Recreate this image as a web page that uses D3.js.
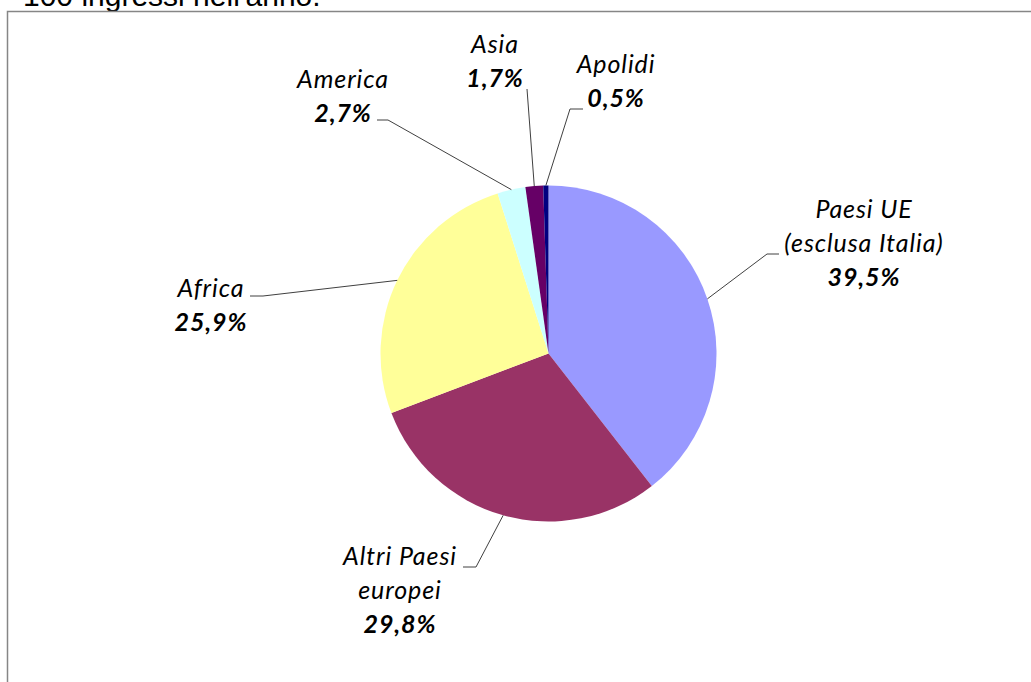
<!DOCTYPE html>
<meta charset="utf-8">
<style>

body {
  margin: 0;
  background: #fff;
}

.title {
  font-family: "Liberation Sans", Arial, sans-serif;
  font-size: 30px;
  fill: #000;
}

.frame {
  fill: none;
  stroke: #868686;
  stroke-width: 1.5px;
}

.slice {
  stroke: none;
}

.leader {
  fill: none;
  stroke: #404040;
  stroke-width: 1px;
}

.label {
  font-family: Lato, "Open Sans", sans-serif;
  font-style: italic;
  font-size: 25px;
  letter-spacing: 0.9px;
  fill: #000;
  text-anchor: middle;
}

.label .pct {
  font-weight: bold;
}

</style>
<svg width="1031" height="682"></svg>
<script src="https://cdn.jsdelivr.net/npm/d3@7"></script>
<script>

var categories = ["Paesi UE (esclusa Italia)", "Altri Paesi europei", "Africa", "America", "Asia", "Apolidi"];
var values = [39.5, 29.8, 25.9, 2.7, 1.7, 0.5];
var labelLines = [
  ["Paesi UE", "(esclusa Italia)"],
  ["Altri Paesi", "europei"],
  ["Africa"],
  ["America"],
  ["Asia"],
  ["Apolidi"]
];
var colors = ["#9999ff", "#993366", "#ffff99", "#ccffff", "#660066", "#000080"];

// where each label sits and where its leader line bends
var layout = [
  {x: 864, y: 218, elbow: [[767, 254], [779, 254]]},
  {x: 400, y: 565, elbow: [[476, 567], [463, 567]]},
  {x: 211, y: 297, elbow: [[263, 296], [250, 296]]},
  {x: 343, y: 88,  elbow: [[388, 120], [377, 120]]},
  {x: 495, y: 53,  elbow: [[527, 89]]},
  {x: 616, y: 73,  elbow: [[570, 109], [583, 109]]}
];

var svg = d3.select("svg"),
    width = +svg.attr("width"),
    height = +svg.attr("height");

var cx = 548.5, cy = 353.5, radius = 168,
    lineHeight = 34;

svg.append("text")
    .attr("class", "title")
    .attr("x", 23)
    .attr("y", 6)
    .text("100 ingressi nell'anno.");

svg.append("rect")
    .attr("class", "frame")
    .attr("x", 7.5)
    .attr("y", 11.5)
    .attr("width", width + 10)
    .attr("height", height + 10);

var data = categories.map(function(c, i) {
  return {name: c, value: values[i], lines: labelLines[i], color: colors[i], pos: layout[i]};
});

var pie = d3.pie()
    .sort(null)
    .value(function(d) { return d.value; });

var arc = d3.arc()
    .innerRadius(0)
    .outerRadius(radius);

var edge = d3.arc()
    .innerRadius(radius)
    .outerRadius(radius);

var g = svg.append("g")
    .attr("transform", "translate(" + cx + "," + cy + ")");

var arcs = pie(data);

g.selectAll(".slice")
    .data(arcs)
  .enter().append("path")
    .attr("class", "slice")
    .attr("fill", function(d) { return d.data.color; })
    .attr("d", arc);

svg.selectAll(".leader")
    .data(arcs)
  .enter().append("polyline")
    .attr("class", "leader")
    .attr("points", function(d) {
      var c = edge.centroid(d);
      var pts = [[cx + c[0], cy + c[1]]].concat(d.data.pos.elbow);
      return pts.map(function(p) { return p.join(","); }).join(" ");
    });

var labels = svg.selectAll(".label")
    .data(arcs)
  .enter().append("text")
    .attr("class", "label")
    .attr("transform", function(d) { return "translate(" + d.data.pos.x + "," + d.data.pos.y + ")"; });

labels.each(function(d) {
  var t = d3.select(this);
  d.data.lines.forEach(function(line, i) {
    t.append("tspan")
        .attr("x", 0)
        .attr("y", i * lineHeight)
        .text(line);
  });
  t.append("tspan")
      .attr("class", "pct")
      .attr("x", 0)
      .attr("y", d.data.lines.length * lineHeight)
      .text(d3.format(".1f")(d.data.value).replace(".", ",") + "%");
});

</script>
